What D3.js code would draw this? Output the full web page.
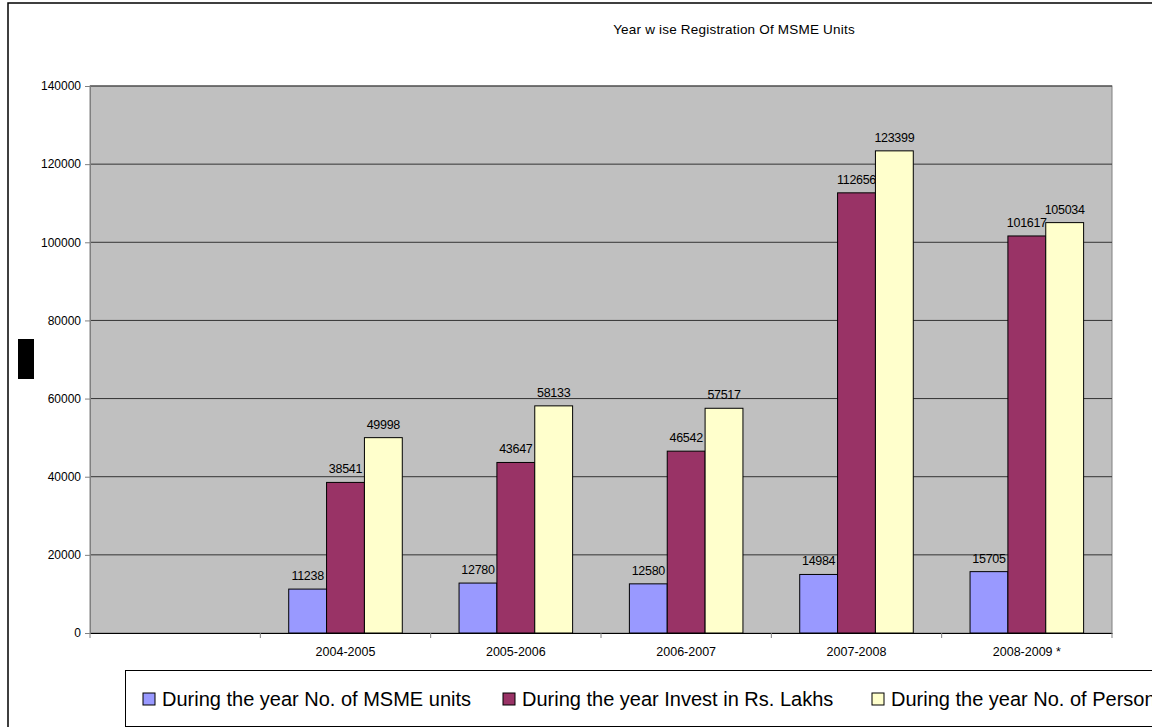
<!DOCTYPE html>
<html>
<head>
<meta charset="utf-8">
<script src="https://cdn.jsdelivr.net/npm/d3@7"></script>
<style>
  body { margin: 0; background: #fff; }
  svg { font-family: "Liberation Sans", Arial, sans-serif; }
  .axis path, .axis line { stroke: #808080; }
  .axis text { fill: #000; font-size: 12px; }
  .xaxis text { font-size: 12.5px; }
  .lbl { font-size: 12.5px; letter-spacing: -0.3px; }
</style>
</head>
<body>
<div id="main_div"></div>
<script>
/** data **/
const categories = ["", "2004-2005", "2005-2006", "2006-2007", "2007-2008", "2008-2009 *"];
const years = ["2004-2005", "2005-2006", "2006-2007", "2007-2008", "2008-2009 *"];
const seriesNames = ["During the year No. of MSME units", "During the year Invest in Rs. Lakhs", "During the year No. of Persons employed"];
const msmeUnits = [11238, 12780, 12580, 14984, 15705];
const investLakhs = [38541, 43647, 46542, 112656, 101617];
const persons = [49998, 58133, 57517, 123399, 105034];
const yTicks = [0, 20000, 40000, 60000, 80000, 100000, 120000, 140000];
const colors = ["#9999ff", "#993366", "#ffffcc"];

const W = 1159, H = 727;
const plot = { left: 90, top: 86, right: 1112, bottom: 633 };

let svg = d3.select("#main_div").append("svg")
    .attr("width", W).attr("height", H);

svg.append("clipPath").attr("id", "clip")
    .append("rect").attr("x", 0).attr("y", 0).attr("width", 1152).attr("height", H);

let root = svg.append("g").attr("clip-path", "url(#clip)");

// outer chart border
root.append("rect")
    .attr("x", 8).attr("y", 3).attr("width", 1160).attr("height", 740)
    .style("fill", "#fff").style("stroke", "#000").style("stroke-width", 1.5);

let xScale = d3.scaleBand().domain(categories).range([plot.left, plot.right]);
let yScale = d3.scaleLinear().domain([0, 140000]).range([plot.bottom, plot.top]);

// gap width 150% -> bar = band / 4.5
let barW = xScale.bandwidth() / 4.5;
let inner = d3.scaleBand().domain([0, 1, 2])
    .range([barW * 0.75, barW * 3.75]);

// plot background
root.append("rect")
    .attr("x", plot.left).attr("y", plot.top)
    .attr("width", plot.right - plot.left).attr("height", plot.bottom - plot.top)
    .style("fill", "#c0c0c0").style("stroke", "#808080");

// gridlines
root.append("g").selectAll("line")
    .data(yTicks.slice(1))
    .enter().append("line")
    .attr("x1", plot.left).attr("x2", plot.right)
    .attr("y1", d => yScale(d)).attr("y2", d => yScale(d))
    .style("stroke", "#333").style("stroke-width", 1);

// y axis
let yAxis = d3.axisLeft(yScale).tickValues(yTicks).tickSize(5).tickPadding(4).tickFormat(d => d);
root.append("g").attr("class", "axis")
    .attr("transform", "translate(" + plot.left + ",0)")
    .call(yAxis);

// x axis (labels centered, ticks at boundaries)
let xAxis = d3.axisBottom(xScale).tickSize(0).tickPadding(14);
let xg = root.append("g").attr("class", "axis xaxis")
    .attr("transform", "translate(0," + plot.bottom + ")")
    .call(xAxis);
xg.select(".domain").style("stroke", "#000");
xg.selectAll(".bound").data(categories.concat(["_end"]))
    .enter().append("line")
    .attr("x1", (d, i) => plot.left + i * xScale.step())
    .attr("x2", (d, i) => plot.left + i * xScale.step())
    .attr("y1", 0).attr("y2", 5)
    .style("stroke", "#808080");

// bars
const series = [msmeUnits, investLakhs, persons];
let bars = root.append("g").attr("id", "bars");
series.forEach(function (vals, s) {
    let g = bars.append("g");
    g.selectAll("rect").data(years)
        .enter().append("rect")
        .attr("x", (d) => xScale(d) + inner(s))
        .attr("y", (d, i) => yScale(vals[i]))
        .attr("width", inner.bandwidth())
        .attr("height", (d, i) => yScale(0) - yScale(vals[i]))
        .style("fill", colors[s]).style("stroke", "#000").style("stroke-width", 1);
    g.selectAll("text").data(years)
        .enter().append("text")
        .attr("class", "lbl")
        .attr("x", (d) => xScale(d) + inner(s) + inner.bandwidth() / 2)
        .attr("y", (d, i) => yScale(vals[i]) - 9)
        .attr("text-anchor", "middle")
        .text((d, i) => vals[i]);
});

// title
root.append("text")
    .attr("x", 734).attr("y", 34)
    .attr("text-anchor", "middle")
    .style("font-size", "13.5px")
    .style("letter-spacing", "0.2px")
    .text("Year w ise Registration Of MSME Units");

// black axis title box
root.append("rect")
    .attr("x", 18).attr("y", 339).attr("width", 16).attr("height", 40)
    .style("fill", "#000");

// legend
root.append("rect")
    .attr("x", 125.5).attr("y", 670.5).attr("width", 1100).attr("height", 56)
    .style("fill", "#fff").style("stroke", "#000");
const legendX = [143, 503, 872];
seriesNames.forEach(function (name, i) {
    root.append("rect")
        .attr("x", legendX[i]).attr("y", 693).attr("width", 12).attr("height", 12)
        .style("fill", colors[i]).style("stroke", "#000");
    root.append("text")
        .attr("x", legendX[i] + 19).attr("y", 706)
        .style("font-size", "20px")
        .text(name);
});
</script>
</body>
</html>
